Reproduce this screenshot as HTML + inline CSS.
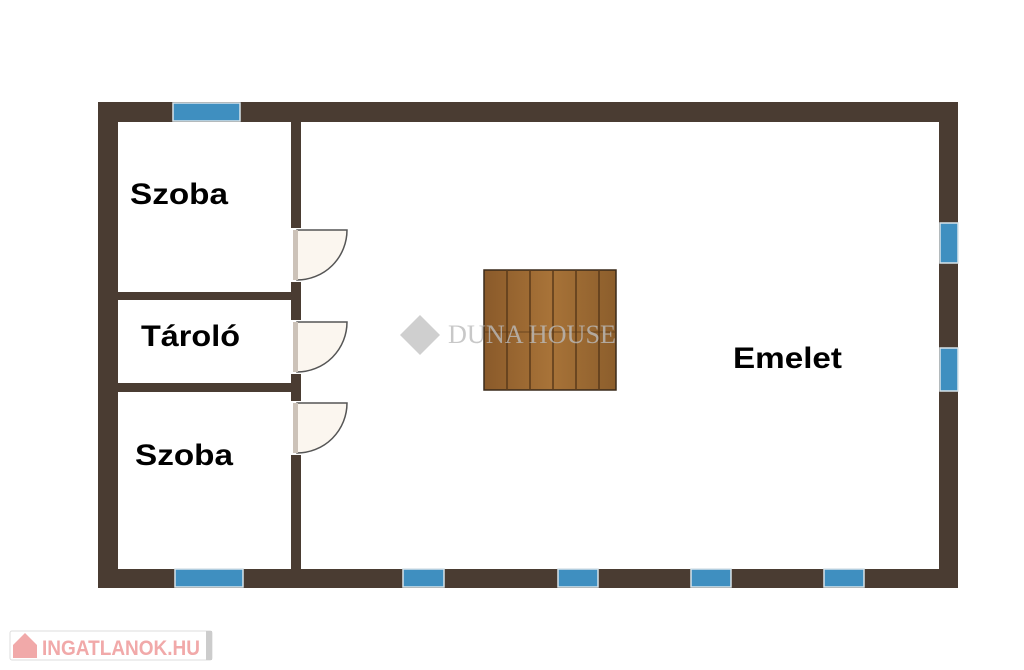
<!DOCTYPE html>
<html><head><style>
body{margin:0;background:#fff;width:1024px;height:670px;overflow:hidden;position:relative;font-family:"Liberation Sans",sans-serif}
</style></head><body>
<svg width="1024" height="670" style="position:absolute;left:0;top:0">
<defs>
<linearGradient id="w" x1="0" x2="1"><stop offset="0" stop-color="#8a5a2a"/><stop offset="0.5" stop-color="#a87338"/><stop offset="1" stop-color="#8c5e2c"/></linearGradient>
</defs>
<g fill="#4a3c32">
<rect x="98" y="102" width="860" height="20"/>
<rect x="98" y="569" width="860" height="19"/>
<rect x="98" y="102" width="20" height="486"/>
<rect x="939" y="102" width="19" height="486"/>
<rect x="291" y="122" width="10" height="447"/>
<rect x="118" y="292" width="173" height="8"/>
<rect x="118" y="383" width="173" height="9"/>
</g>
<g fill="#3f8fc0" stroke="#d8e4ea" stroke-width="1.5">
<rect x="173" y="103" width="67" height="18"/>
<rect x="175" y="569" width="68" height="18"/>
<rect x="403" y="569" width="41" height="18"/>
<rect x="558" y="569" width="40" height="18"/>
<rect x="691" y="569" width="40" height="18"/>
<rect x="824" y="569" width="40" height="18"/>
<rect x="940" y="223" width="18" height="40"/>
<rect x="940" y="348" width="18" height="43"/>
</g>
<g fill="#fff">
<rect x="291" y="228" width="10" height="54"/>
<rect x="291" y="320" width="10" height="54"/>
<rect x="291" y="401" width="10" height="54"/>
</g>
<g fill="#fbf6ef" stroke="#555" stroke-width="1.5">
<path d="M297 230 L347 230 A50 50 0 0 1 297 280 Z"/>
<path d="M297 322 L347 322 A50 50 0 0 1 297 372 Z"/>
<path d="M297 403 L347 403 A50 50 0 0 1 297 453 Z"/>
</g>
<g fill="#ccc2b8"><rect x="293" y="230" width="5" height="50"/><rect x="293" y="322" width="5" height="50"/><rect x="293" y="403" width="5" height="50"/></g>
<rect x="484" y="270" width="132" height="120" fill="url(#w)" stroke="#3a2a1a" stroke-width="1.5"/>
<g stroke="#5a3a1a" stroke-width="1.5">
<line x1="507" y1="270" x2="507" y2="390"/><line x1="530" y1="270" x2="530" y2="390"/><line x1="553" y1="270" x2="553" y2="390"/><line x1="576" y1="270" x2="576" y2="390"/><line x1="599" y1="270" x2="599" y2="390"/>
<line x1="484" y1="332" x2="616" y2="332" stroke-width="0.8"/>
</g>
<path d="M420 315 L440 335 L420 355 L400 335 Z" fill="#bbb" opacity="0.7"/>
<text x="448" y="343" font-family="Liberation Serif" font-size="26" fill="#bbb" opacity="0.8" textLength="168" lengthAdjust="spacingAndGlyphs">DUNA HOUSE</text>
<g font-weight="bold" font-size="30" fill="#000">
<text x="130" y="204" textLength="98" lengthAdjust="spacingAndGlyphs">Szoba</text>
<text x="141" y="346" textLength="99" lengthAdjust="spacingAndGlyphs">Tároló</text>
<text x="135" y="465" textLength="98" lengthAdjust="spacingAndGlyphs">Szoba</text>
<text x="733" y="368" textLength="109" lengthAdjust="spacingAndGlyphs">Emelet</text>
</g>
<rect x="10" y="631" width="202" height="29" rx="2" fill="#fff" stroke="#ddd"/>
<rect x="206" y="631" width="6" height="29" fill="#ccc"/>
<path d="M13 645 L25 633 L37 645 V658 H13 Z" fill="#f1a9a9"/>
<text x="42" y="655" font-weight="bold" font-size="21" fill="#f1a9a9" textLength="158" lengthAdjust="spacingAndGlyphs">INGATLANOK.HU</text>
</svg>
</body></html>
